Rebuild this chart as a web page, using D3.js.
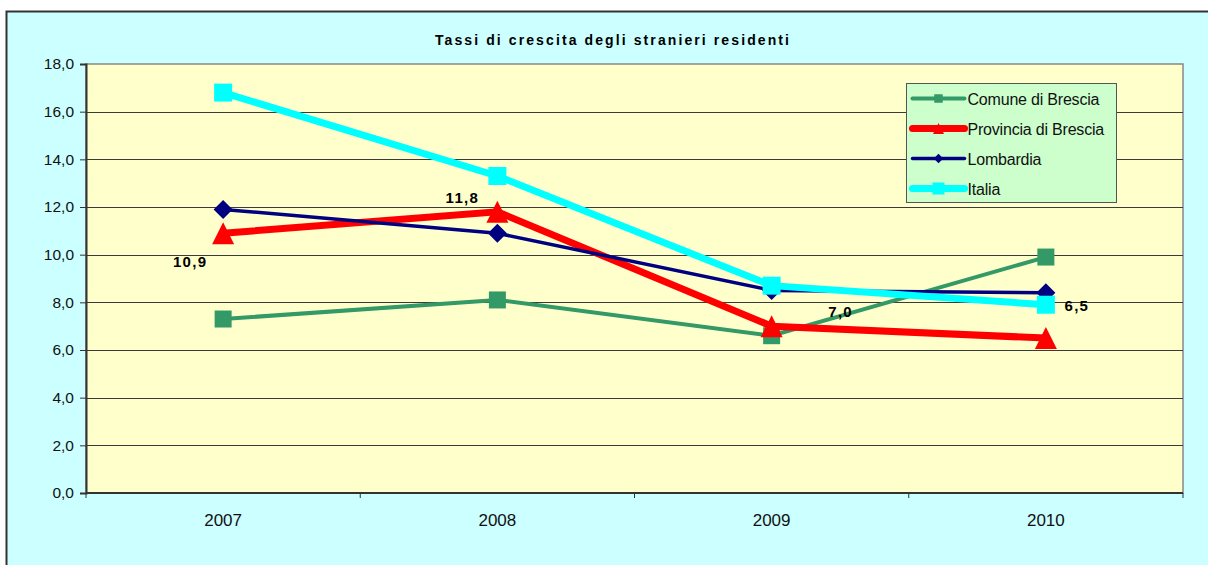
<!DOCTYPE html>
<html>
<head>
<meta charset="utf-8">
<script src="https://cdn.jsdelivr.net/npm/d3@7"></script>
<style>
  body { margin: 0; background: #fff; overflow: hidden; }
  svg { display: block; }
  text { font-family: "Liberation Sans", Arial, sans-serif; }
</style>
</head>
<body>
<div id="chart"></div>
<script>
var years = ["2007", "2008", "2009", "2010"];
var yTicks = [0, 2, 4, 6, 8, 10, 12, 14, 16, 18];

var comune = [7.3, 8.1, 6.6, 9.9];
var provincia = [10.9, 11.8, 7.0, 6.5];
var lombardia = [11.9, 10.9, 8.5, 8.4];
var italia = [16.8, 13.3, 8.7, 7.9];

var seriesNames = ["Comune di Brescia", "Provincia di Brescia", "Lombardia", "Italia"];

var W = 1208, H = 565;
var margin = { top: 64, right: 25, bottom: 72, left: 86 },
  width = W - margin.left - margin.right,
  height = H - margin.top - margin.bottom;

var svg = d3.select("#chart")
  .append("svg")
  .attr("width", W)
  .attr("height", H);

// outer chart area, only left and top edges fall inside the picture
svg.append("rect")
  .attr("x", 6).attr("y", 11)
  .attr("width", W - 6).attr("height", H - 11)
  .attr("fill", "#ccffff");
svg.append("path")
  .attr("d", "M6.5," + H + "V11.5H" + W)
  .attr("fill", "none")
  .attr("stroke", "#333")
  .attr("stroke-width", 2);

svg.append("text")
  .attr("x", 613).attr("y", 45)
  .attr("text-anchor", "middle")
  .style("font-size", "14px")
  .style("font-weight", "bold")
  .style("letter-spacing", "2.1px")
  .text("Tassi di crescita degli stranieri residenti");

var g = svg.append("g")
  .attr("transform", "translate(" + margin.left + "," + margin.top + ")");

var x = d3.scaleBand().domain(years).range([0, width]);
var y = d3.scaleLinear().domain([0, 18]).range([height, 0]);

g.append("rect")
  .attr("width", width).attr("height", height)
  .attr("fill", "#ffffcc")
  .attr("stroke", "#888")
  .attr("stroke-width", 1.5);

// gridlines
g.selectAll(".grid")
  .data(yTicks.filter(function (d) { return d > 0 && d < 18; }))
  .enter()
  .append("line")
  .attr("x1", 0).attr("x2", width)
  .attr("y1", function (d) { return Math.round(y(d)) + 0.5; })
  .attr("y2", function (d) { return Math.round(y(d)) + 0.5; })
  .attr("stroke", "#3a3a3a")
  .attr("stroke-width", 1);

// y axis
var yAxis = g.append("g")
  .call(d3.axisLeft(y).tickValues(yTicks).tickSize(6).tickPadding(6)
    .tickFormat(function (d) { return d3.format(".1f")(d).replace(".", ","); }));
yAxis.select(".domain").attr("stroke", "#333").attr("stroke-width", 2);
yAxis.selectAll(".tick line").attr("stroke", "#333");
yAxis.selectAll("text")
  .style("font-size", "15.5px")
  .style("font-family", "Liberation Sans, Arial, sans-serif")
  .attr("fill", "#111");

// x axis (ticks at category boundaries)
var xAxisG = g.append("g").attr("transform", "translate(0," + height + ")");
xAxisG.append("line")
  .attr("x1", 0).attr("x2", width)
  .attr("stroke", "#333").attr("stroke-width", 2);
xAxisG.selectAll(".xt")
  .data(years.concat(["end"]))
  .enter()
  .append("line")
  .attr("x1", function (d, i) { return i < years.length ? x(d) : width; })
  .attr("x2", function (d, i) { return i < years.length ? x(d) : width; })
  .attr("y1", 0).attr("y2", 5)
  .attr("stroke", "#333");
xAxisG.selectAll(".xl")
  .data(years)
  .enter()
  .append("text")
  .attr("x", function (d) { return x(d) + x.bandwidth() / 2; })
  .attr("y", 33)
  .attr("text-anchor", "middle")
  .style("font-size", "17px")
  .attr("fill", "#111")
  .text(function (d) { return d; });

var cx = function (i) { return x(years[i]) + x.bandwidth() / 2; };

var series = [
  { name: seriesNames[0], values: comune, color: "#339966", width: 4, marker: "square", size: 17 },
  { name: seriesNames[1], values: provincia, color: "#ff0000", width: 7, marker: "triangle", size: 22 },
  { name: seriesNames[2], values: lombardia, color: "#000080", width: 3.5, marker: "diamond", size: 19 },
  { name: seriesNames[3], values: italia, color: "#00ffff", width: 7, marker: "square", size: 18 }
];

var line = d3.line()
  .x(function (d, i) { return cx(i); })
  .y(function (d) { return y(d); });

function markerPath(type, s) {
  var h = s / 2;
  if (type === "square") return "M" + -h + "," + -h + "h" + s + "v" + s + "h" + -s + "Z";
  if (type === "diamond") return "M0," + -h + "L" + h + ",0L0," + h + "L" + -h + ",0Z";
  return "M0," + -h + "L" + h + "," + h + "L" + -h + "," + h + "Z";
}

series.forEach(function (s) {
  g.append("path")
    .datum(s.values)
    .attr("d", line)
    .attr("fill", "none")
    .attr("stroke", s.color)
    .attr("stroke-width", s.width);
  g.selectAll(null)
    .data(s.values)
    .enter()
    .append("path")
    .attr("d", markerPath(s.marker, s.size))
    .attr("transform", function (d, i) { return "translate(" + cx(i) + "," + y(d) + ")"; })
    .attr("fill", s.color);
});

// data labels for Provincia di Brescia
var labelOffsets = [[-33, 34], [-35, -9], [69, -9], [31, -27]];
g.selectAll(".dl")
  .data(provincia)
  .enter()
  .append("text")
  .attr("x", function (d, i) { return cx(i) + labelOffsets[i][0]; })
  .attr("y", function (d, i) { return y(d) + labelOffsets[i][1]; })
  .attr("text-anchor", "middle")
  .style("font-size", "15px")
  .style("font-weight", "bold")
  .style("letter-spacing", "1.3px")
  .text(function (d) { return d3.format(".1f")(d).replace(".", ","); });

// legend
var legend = svg.append("g").attr("transform", "translate(906.5,83.5)");
legend.append("rect")
  .attr("width", 210).attr("height", 119)
  .attr("fill", "#ccffcc")
  .attr("stroke", "#555")
  .attr("stroke-width", 1);

series.forEach(function (s, i) {
  var ly = 15 + i * 30;
  legend.append("line")
    .attr("x1", 6).attr("x2", 58)
    .attr("y1", ly).attr("y2", ly)
    .attr("stroke", s.color)
    .attr("stroke-width", s.width)
    .attr("stroke-linecap", "round");
  legend.append("path")
    .attr("d", markerPath(s.marker, s.size * 0.5 + (s.name === "Italia" ? 3 : 0)))
    .attr("transform", "translate(32," + ly + ")")
    .attr("fill", s.color);
  legend.append("text")
    .attr("x", 61).attr("y", ly + 6)
    .style("font-size", "16px")
    .style("letter-spacing", "-0.2px")
    .attr("fill", "#111")
    .text(s.name);
});
</script>
</body>
</html>
